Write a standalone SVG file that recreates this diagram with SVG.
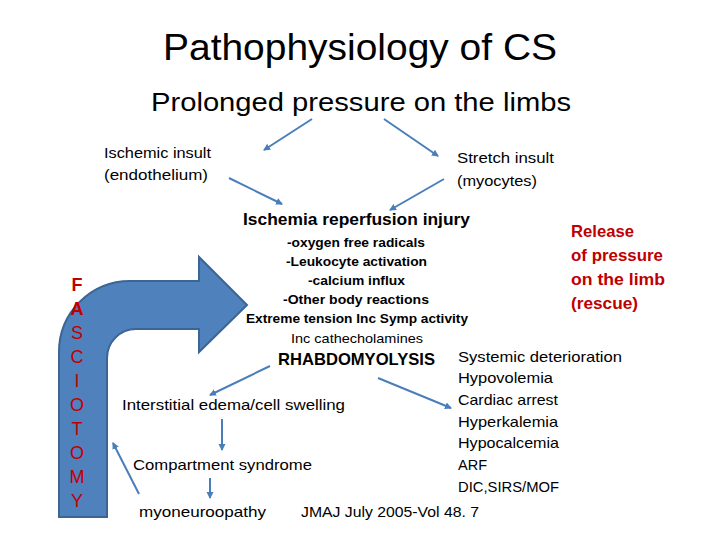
<svg xmlns="http://www.w3.org/2000/svg" width="720" height="540" viewBox="0 0 720 540">
<defs>
<marker id="ah" markerWidth="8" markerHeight="8" refX="6" refY="4" orient="auto" markerUnits="userSpaceOnUse">
<path d="M0,0.5 L7,4 L0,7.5 Z" fill="#4A7EBB"/>
</marker>
<style>
text{font-family:"Liberation Sans",Arial,sans-serif;fill:#000}
.t{font-size:37px}
.s{font-size:26px}
.n{font-size:15px}
.b{font-size:17px;font-weight:bold}
.bs{font-size:13.5px;font-weight:bold}
.sm{font-size:13.5px}
.red{fill:#C00000;font-weight:bold;font-size:16.5px}
.fa{fill:#C00000;font-size:18px}
.c line{stroke:#4A7EBB;stroke-width:2;marker-end:url(#ah)}
</style>
</defs>
<rect width="720" height="540" fill="#fff"/>
<g id="bentArrow">
<path d="M59,517 L59,352 A71,71 0 0 1 130,281 L199,281 L199,257 L247,305 L199,352 L199,329 L136,329 A29,29 0 0 0 107,358 L107,517 Z" fill="#4F81BD" stroke="#3A6594" stroke-width="2"/>
</g>
<g id="fasciotomy" text-anchor="middle">
<text class="fa" x="77" y="291" font-weight="bold">F</text>
<text class="fa" x="77" y="315" font-weight="bold">A</text>
<text class="fa" x="77" y="339">S</text>
<text class="fa" x="77" y="363">C</text>
<text class="fa" x="77" y="387">I</text>
<text class="fa" x="77" y="411">O</text>
<text class="fa" x="77" y="435">T</text>
<text class="fa" x="77" y="459">O</text>
<text class="fa" x="77" y="483">M</text>
<text class="fa" x="77" y="507">Y</text>
</g>
<g id="title"><text class="t" x="163" y="60" textLength="394" lengthAdjust="spacingAndGlyphs">Pathophysiology of CS</text></g>
<g id="prolonged"><text class="s" x="151" y="111" textLength="420" lengthAdjust="spacingAndGlyphs">Prolonged pressure on the limbs</text></g>
<g id="ischemic">
<text class="n" x="104" y="158" textLength="107" lengthAdjust="spacingAndGlyphs">Ischemic insult</text>
<text class="n" x="104" y="180" textLength="104" lengthAdjust="spacingAndGlyphs">(endothelium)</text>
</g>
<g id="stretch">
<text class="n" x="457" y="163" textLength="97" lengthAdjust="spacingAndGlyphs">Stretch insult</text>
<text class="n" x="457" y="186" textLength="80" lengthAdjust="spacingAndGlyphs">(myocytes)</text>
</g>
<g id="ischemiaReperfusion">
<text class="b" x="243" y="225" textLength="227" lengthAdjust="spacingAndGlyphs">Ischemia reperfusion injury</text>
<text class="bs" x="287" y="247" textLength="138" lengthAdjust="spacingAndGlyphs">-oxygen free radicals</text>
<text class="bs" x="286" y="266" textLength="141" lengthAdjust="spacingAndGlyphs">-Leukocyte activation</text>
<text class="bs" x="308" y="285" textLength="97" lengthAdjust="spacingAndGlyphs">-calcium influx</text>
<text class="bs" x="283" y="304" textLength="146" lengthAdjust="spacingAndGlyphs">-Other body reactions</text>
<text class="bs" x="246" y="323" textLength="222" lengthAdjust="spacingAndGlyphs">Extreme tension Inc Symp activity</text>
<text class="sm" x="291" y="343" textLength="132" lengthAdjust="spacingAndGlyphs">Inc cathecholamines</text>
</g>
<g id="rhabdo"><text class="b" x="278" y="365" textLength="157" lengthAdjust="spacingAndGlyphs">RHABDOMYOLYSIS</text></g>
<g id="release">
<text class="red" x="571" y="237" textLength="63" lengthAdjust="spacingAndGlyphs">Release</text>
<text class="red" x="571" y="261" textLength="92" lengthAdjust="spacingAndGlyphs">of pressure</text>
<text class="red" x="571" y="285" textLength="94" lengthAdjust="spacingAndGlyphs">on the limb</text>
<text class="red" x="571" y="309" textLength="67" lengthAdjust="spacingAndGlyphs">(rescue)</text>
</g>
<g id="systemic">
<text class="n" x="458" y="362" textLength="164" lengthAdjust="spacingAndGlyphs">Systemic deterioration</text>
<text class="n" x="458" y="383" textLength="95" lengthAdjust="spacingAndGlyphs">Hypovolemia</text>
<text class="n" x="458" y="405" textLength="100" lengthAdjust="spacingAndGlyphs">Cardiac arrest</text>
<text class="n" x="458" y="427" textLength="100" lengthAdjust="spacingAndGlyphs">Hyperkalemia</text>
<text class="n" x="458" y="448" textLength="101" lengthAdjust="spacingAndGlyphs">Hypocalcemia</text>
<text class="n" x="458" y="470" textLength="29" lengthAdjust="spacingAndGlyphs">ARF</text>
<text class="n" x="458" y="492" textLength="101" lengthAdjust="spacingAndGlyphs">DIC,SIRS/MOF</text>
</g>
<g id="interstitial"><text class="n" x="122" y="410" textLength="223" lengthAdjust="spacingAndGlyphs">Interstitial edema/cell swelling</text></g>
<g id="compartment"><text class="n" x="133" y="470" textLength="179" lengthAdjust="spacingAndGlyphs">Compartment syndrome</text></g>
<g id="myoneuro"><text class="n" x="139" y="517" textLength="127" lengthAdjust="spacingAndGlyphs">myoneuroopathy</text></g>
<g id="citation"><text class="n" x="301" y="517" textLength="178" lengthAdjust="spacingAndGlyphs">JMAJ July 2005-Vol 48. 7</text></g>
<g id="connectors" class="c">
<line x1="312" y1="119" x2="264" y2="150"/>
<line x1="384" y1="119" x2="438" y2="156"/>
<line x1="229" y1="178" x2="282" y2="204"/>
<line x1="444" y1="179" x2="390" y2="210"/>
<line x1="270" y1="366" x2="210" y2="395"/>
<line x1="378" y1="378" x2="451" y2="408"/>
<line x1="222" y1="419" x2="222" y2="450"/>
<line x1="210" y1="478" x2="210" y2="498"/>
<line x1="139" y1="494" x2="113" y2="443"/>
</g>
</svg>
